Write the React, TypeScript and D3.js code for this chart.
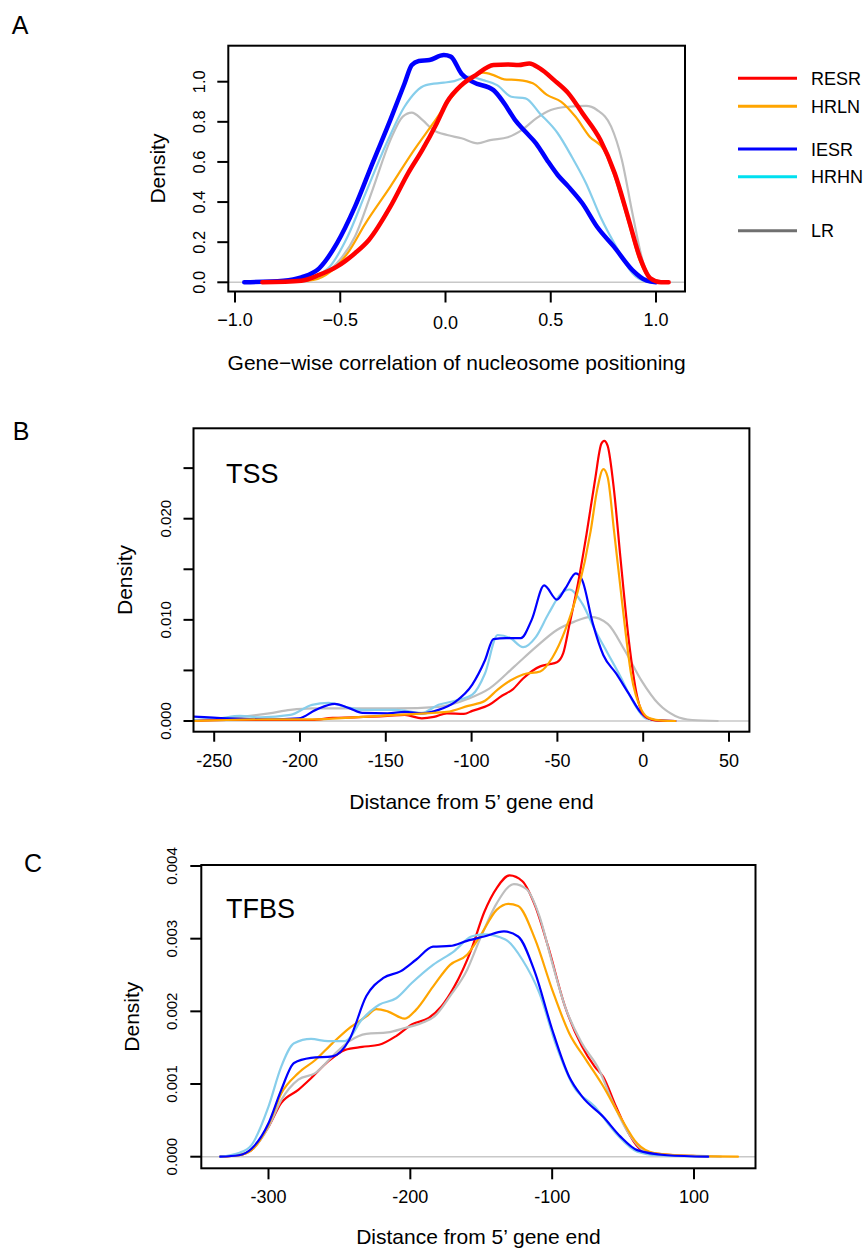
import React from "react";
import * as d3 from "d3";

// ---------- Panel A: gene-wise correlation ----------
const A_IESR: [number, number][] = [
  [-0.956, 0], [-0.77, 0.008], [-0.685, 0.025], [-0.6, 0.07], [-0.516, 0.194], [-0.43, 0.377],
  [-0.347, 0.593], [-0.262, 0.81], [-0.195, 0.99], [-0.16, 1.083], [-0.127, 1.103], [-0.076, 1.108],
  [-0.008, 1.133], [0.025, 1.125], [0.076, 1.04], [0.127, 1.0], [0.228, 0.958], [0.279, 0.892],
  [0.33, 0.81], [0.38, 0.75], [0.43, 0.693], [0.482, 0.61], [0.533, 0.535], [0.584, 0.477],
  [0.65, 0.394], [0.72, 0.277], [0.8, 0.178], [0.888, 0.061], [0.956, 0.008], [1.0, 0],
];
const A_RESR: [number, number][] = [
  [-0.87, 0], [-0.685, 0.008], [-0.6, 0.037], [-0.516, 0.078], [-0.43, 0.145], [-0.364, 0.211],
  [-0.262, 0.377], [-0.178, 0.543], [-0.11, 0.66], [-0.042, 0.792], [0.008, 0.9], [0.076, 0.983],
  [0.144, 1.033], [0.228, 1.083], [0.296, 1.086], [0.347, 1.083], [0.398, 1.091], [0.448, 1.066],
  [0.516, 1.008], [0.584, 0.942], [0.651, 0.842], [0.736, 0.709], [0.804, 0.543], [0.871, 0.31],
  [0.922, 0.128], [0.973, 0.02], [1.024, 0], [1.06, 0],
];
const A_HRLN: [number, number][] = [
  [-0.87, 0], [-0.65, 0.008], [-0.567, 0.037], [-0.465, 0.145], [-0.38, 0.294], [-0.262, 0.477],
  [-0.16, 0.643], [-0.059, 0.792], [0.025, 0.917], [0.11, 1.008], [0.178, 1.045], [0.228, 1.033],
  [0.279, 1.012], [0.347, 1.008], [0.415, 0.992], [0.482, 0.934], [0.55, 0.9], [0.618, 0.825],
  [0.685, 0.726], [0.753, 0.66], [0.804, 0.527], [0.871, 0.294], [0.922, 0.111], [0.973, 0.02],
  [1.04, 0],
];
const A_HRHN: [number, number][] = [
  [-0.956, 0], [-0.72, 0.008], [-0.635, 0.028], [-0.55, 0.078], [-0.465, 0.228], [-0.38, 0.443],
  [-0.28, 0.693], [-0.195, 0.875], [-0.093, 0.983], [-0.008, 0.995], [0.042, 1.003], [0.11, 1.025],
  [0.178, 1.008], [0.245, 0.983], [0.313, 0.925], [0.38, 0.917], [0.448, 0.842], [0.533, 0.743],
  [0.6, 0.626], [0.668, 0.493], [0.736, 0.327], [0.82, 0.161], [0.888, 0.045], [0.94, 0.008],
  [0.99, 0],
];
const A_LR: [number, number][] = [
  [-0.94, 0], [-0.685, 0.008], [-0.6, 0.028], [-0.516, 0.095], [-0.43, 0.228], [-0.347, 0.46],
  [-0.262, 0.709], [-0.203, 0.826], [-0.16, 0.846], [-0.11, 0.81], [-0.059, 0.76], [0.008, 0.734],
  [0.076, 0.718], [0.152, 0.693], [0.212, 0.709], [0.296, 0.723], [0.364, 0.76], [0.431, 0.817],
  [0.5, 0.859], [0.584, 0.875], [0.668, 0.879], [0.72, 0.859], [0.787, 0.776], [0.838, 0.61],
  [0.888, 0.344], [0.94, 0.095], [0.99, 0.012], [1.06, 0],
];

// ---------- Panel B: TSS ----------
const B_RESR: [number, number][] = [
  [-262, 0], [-242.6, 0.0001], [-218, 0.0001], [-193, 0.0001], [-181, 0.0003], [-168.6, 0.00036],
  [-149, 0.0005], [-139, 0.0006], [-129, 0.00026], [-122, 0.0004], [-114.4, 0.00076], [-104.5, 0.0007],
  [-99.6, 0.001], [-89.7, 0.0016], [-82.3, 0.0025], [-76.2, 0.0031], [-70, 0.0042], [-60, 0.0054],
  [-55.2, 0.0056], [-50.3, 0.0058], [-46.6, 0.0067], [-42.9, 0.0096], [-38, 0.0136], [-33, 0.0185],
  [-28.1, 0.0238], [-24.4, 0.0274], [-22.7, 0.0277], [-20.7, 0.0272], [-17, 0.0228], [-13.3, 0.0162],
  [-8.4, 0.008], [-3.5, 0.0024], [1.5, 0.0004], [8.9, 0.00003], [18.7, 0],
];
const B_HRLN: [number, number][] = [
  [-262, 0], [-242.6, 0.0001], [-218, 0.00016], [-193, 0.00016], [-168.6, 0.00036], [-144, 0.0006],
  [-126.7, 0.00076], [-114.4, 0.0009], [-102, 0.0015], [-92.2, 0.002], [-84.8, 0.0031], [-77.4, 0.004],
  [-70, 0.0046], [-60, 0.0049], [-52.8, 0.0063], [-45.4, 0.009], [-38, 0.0129], [-30.6, 0.0188],
  [-26.9, 0.0228], [-23.2, 0.0249], [-20.7, 0.0241], [-17, 0.0188], [-12, 0.0113], [-7.1, 0.0047],
  [-1, 0.0011], [3.9, 0.00026], [11.3, 0.00003], [18.7, 0],
];
const B_IESR: [number, number][] = [
  [-262, 0.00043], [-242.6, 0.00026], [-218, 0.00016], [-200.7, 0.00026], [-190.8, 0.0011],
  [-179.7, 0.0017], [-171, 0.00125], [-163.7, 0.0008], [-149, 0.00076], [-139, 0.0009],
  [-129, 0.00076], [-119.3, 0.0011], [-109.5, 0.0019], [-99.6, 0.0036], [-92.2, 0.006],
  [-87.3, 0.0081], [-79.9, 0.0082], [-71.3, 0.0082], [-65, 0.01], [-57.7, 0.0134], [-50.3, 0.012],
  [-45.4, 0.0131], [-39.2, 0.0146], [-35.5, 0.0139], [-29.3, 0.0096], [-23.2, 0.0065],
  [-15.8, 0.0047], [-8.4, 0.0027], [-1, 0.00076], [6.4, 0.0001], [18.7, 0],
];
const B_HRHN: [number, number][] = [
  [-262, 0.0001], [-247.5, 0.00026], [-235, 0.0005], [-222.9, 0.00036], [-205.6, 0.0006],
  [-193, 0.0016], [-183.4, 0.0018], [-173.6, 0.0014], [-163.7, 0.0011], [-144, 0.0011],
  [-129, 0.0008], [-119.3, 0.0016], [-109.5, 0.002], [-99.6, 0.0026], [-92.2, 0.0047],
  [-84.8, 0.0085], [-77.4, 0.0082], [-70, 0.0073], [-62.6, 0.0083], [-55.2, 0.0106],
  [-47.8, 0.0126], [-42.9, 0.013], [-35.5, 0.0116], [-28.1, 0.009], [-20.7, 0.0067],
  [-13.3, 0.0044], [-5.9, 0.0019], [1.5, 0.00026], [11.3, 0],
];
const B_LR: [number, number][] = [
  [-262, 0.00003], [-242.6, 0.00026], [-218, 0.00076], [-205.6, 0.0011], [-193, 0.00125],
  [-144, 0.00125], [-119.3, 0.0014], [-102, 0.0022], [-89.7, 0.0032], [-75, 0.0054],
  [-62.6, 0.0073], [-50.3, 0.009], [-40.4, 0.0098], [-30.6, 0.0103], [-20.7, 0.0096],
  [-10.8, 0.007], [-1, 0.004], [8.9, 0.0017], [18.7, 0.0005], [28.6, 0.0001], [43.4, 0],
];

// ---------- Panel C: TFBS ----------
const C_RESR: [number, number][] = [
  [-334, 0], [-321, 0.00002], [-312, 0.00009], [-300, 0.00041], [-291, 0.00074], [-279, 0.00092],
  [-270, 0.00108], [-258, 0.00131], [-246, 0.00147], [-234, 0.00151], [-222, 0.00154],
  [-210, 0.00166], [-199, 0.00182], [-187, 0.00191], [-178, 0.00207], [-169, 0.00234],
  [-157, 0.00285], [-148, 0.00336], [-139, 0.0037], [-130, 0.00387], [-121, 0.00379],
  [-112, 0.00345], [-103, 0.0029], [-91, 0.00207], [-79, 0.00152], [-70, 0.00124], [-64, 0.0011],
  [-55, 0.00069], [-46, 0.00032], [-37, 0.00009], [-25, 0.00004], [-1.5, 0.00001], [10, 0],
];
const C_LR: [number, number][] = [
  [-334, 0], [-321, 0.00002], [-312, 0.00009], [-300, 0.00041], [-291, 0.00078], [-279, 0.00106],
  [-267, 0.00115], [-255, 0.00138], [-243, 0.00159], [-231, 0.00169], [-216, 0.00171],
  [-204, 0.00177], [-192, 0.00184], [-183, 0.00193], [-172, 0.00221], [-160, 0.00257],
  [-151, 0.00299], [-139, 0.00349], [-127, 0.00375], [-118, 0.00368], [-109, 0.00331],
  [-100, 0.00267], [-91, 0.00207], [-79, 0.00156], [-67, 0.0012], [-58, 0.00078], [-46, 0.00032],
  [-34, 0.00007], [-19, 0.00002], [4.5, 0.00001], [19, 0],
];
const C_HRLN: [number, number][] = [
  [-334, 0], [-321, 0.00002], [-312, 0.00009], [-300, 0.00044], [-291, 0.00087], [-279, 0.00115],
  [-267, 0.00133], [-255, 0.00156], [-243, 0.00177], [-231, 0.00193], [-224, 0.00203],
  [-216, 0.002], [-204, 0.0019], [-196, 0.00202], [-184, 0.00234], [-172, 0.00264],
  [-160, 0.00278], [-151, 0.00303], [-139, 0.0034], [-131, 0.00348], [-124, 0.00345],
  [-112, 0.00299], [-100, 0.0023], [-88, 0.0017], [-76, 0.00133], [-64, 0.00097], [-52, 0.00055],
  [-40, 0.00018], [-28, 0.00005], [-1.5, 0.00001], [31, 0],
];
const C_IESR: [number, number][] = [
  [-334, 0], [-321, 0.00002], [-312, 0.00011], [-300, 0.00046], [-291, 0.00092], [-282, 0.00129],
  [-270, 0.00136], [-255, 0.00138], [-243, 0.00161], [-231, 0.00221], [-219, 0.00246],
  [-207, 0.00255], [-196, 0.00271], [-184, 0.00289], [-172, 0.0029], [-160, 0.00297],
  [-148, 0.00303], [-134, 0.0031], [-124, 0.00303], [-112, 0.00253], [-100, 0.00175],
  [-88, 0.0011], [-79, 0.00083], [-64, 0.00055], [-52, 0.00028], [-40, 0.00009], [-19, 0.00002],
  [10, 0],
];
const C_HRHN: [number, number][] = [
  [-334, 0], [-321, 0.00005], [-312, 0.00016], [-300, 0.00069], [-291, 0.00124], [-282, 0.00156],
  [-270, 0.00162], [-258, 0.00159], [-246, 0.00159], [-234, 0.00189], [-222, 0.00209],
  [-210, 0.00218], [-199, 0.00239], [-184, 0.00264], [-169, 0.00283], [-157, 0.00303],
  [-148, 0.00306], [-133, 0.00299], [-121, 0.00271], [-109, 0.00225], [-97, 0.00152],
  [-85, 0.00097], [-70, 0.00069], [-55, 0.00032], [-40, 0.00007], [-25, 0.00002], [10, 0],
];

// ---------- Ticks / labels ----------
const A_XTICKS = [-1, -0.5, 0, 0.5, 1];
const A_XLABELS = ["\u22121.0", "\u22120.5", "0.0", "0.5", "1.0"];
const A_YTICKS = [0, 0.2, 0.4, 0.6, 0.8, 1.0];
const A_YLABELS = ["0.0", "0.2", "0.4", "0.6", "0.8", "1.0"];
const B_XTICKS = [-250, -200, -150, -100, -50, 0, 50];
const B_XLABELS = ["-250", "-200", "-150", "-100", "-50", "0", "50"];
const B_YTICKS = [0, 0.005, 0.01, 0.015, 0.02, 0.025];
const B_YLABELS = ["0.000", "", "0.010", "", "0.020", ""];
const C_XTICKS = [-300, -200, -100, 0];
const C_XLABELS = ["-300", "-200", "-100", "100"];
const C_YTICKS = [0, 0.001, 0.002, 0.003, 0.004];
const C_YLABELS = ["0.000", "0.001", "0.002", "0.003", "0.004"];

const LEGEND_NAMES = ["RESR", "HRLN", "IESR", "HRHN", "LR"];
const LEGEND_COLORS = ["#FF0000", "#FFA500", "#0000FF", "#00E0F0", "#707070"];

const RED = "#FF0000";
const ORANGE = "#FFA500";
const BLUE = "#0000FF";
const SKY = "#87CEEB";
const GRAY = "#BEBEBE";
const FONT = "'Liberation Sans', Arial, Helvetica, sans-serif";

type Series = { data: [number, number][]; color: string; width: number };

type PanelProps = {
  box: [number, number, number, number];
  xDom: [number, number];
  xRange: [number, number];
  yDom: [number, number];
  yRange: [number, number];
  series: Series[];
  xTicks: number[];
  xLabels: string[];
  yTicks: number[];
  yLabels: string[];
  xLabelY: number;
  yLabelX: number;
  yTickFont: number;
  tick: number;
  xTitle: string;
  xTitleY: number;
  yTitleX: number;
  inner?: { text: string; x: number; y: number };
  zeroShift?: number;
};

function Panel(p: PanelProps) {
  const [bx0, by0, bx1, by1] = p.box;
  const x = d3.scaleLinear().domain(p.xDom).range(p.xRange);
  const y = d3.scaleLinear().domain(p.yDom).range(p.yRange);
  const line = d3
    .line<[number, number]>()
    .x((d) => x(d[0]))
    .y((d) => y(d[1]))
    .curve(d3.curveMonotoneX);
  const tick = p.tick;
  const cx = (bx0 + bx1) / 2;
  const cy = (by0 + by1) / 2;
  const clipId = `clip${Math.round(bx0)}_${Math.round(by0)}`;
  return (
    <g>
      <defs>
        <clipPath id={clipId}>
          <rect x={bx0} y={by0} width={bx1 - bx0} height={by1 - by0} />
        </clipPath>
      </defs>
      <line x1={bx0} x2={bx1} y1={y(0)} y2={y(0)} stroke="#C8C8C8" strokeWidth={1.6} />
      <g clipPath={`url(#${clipId})`}>
        {p.series.map((s, i) => (
          <path key={i} d={line(s.data) || ""} fill="none" stroke={s.color} strokeWidth={s.width} strokeLinejoin="round" strokeLinecap="round" />
        ))}
      </g>
      <rect x={bx0} y={by0} width={bx1 - bx0} height={by1 - by0} fill="none" stroke="#000" strokeWidth={2} />
      {p.xTicks.map((t, i) => (
        <g key={"xt" + i}>
          <line x1={x(t)} x2={x(t)} y1={by1} y2={by1 + tick} stroke="#000" strokeWidth={2} />
          <text
            x={x(t)}
            y={p.xLabelY + (p.zeroShift && t === 0 ? p.zeroShift : 0)}
            textAnchor="middle"
            fontSize={18}
            fontFamily={FONT}
          >
            {p.xLabels[i]}
          </text>
        </g>
      ))}
      {p.yTicks.map((t, i) => (
        <g key={"yt" + i}>
          <line x1={bx0} x2={bx0 - tick} y1={y(t)} y2={y(t)} stroke="#000" strokeWidth={2} />
          {p.yLabels[i] ? (
            <text
              transform={`translate(${p.yLabelX},${y(t)}) rotate(-90)`}
              textAnchor="middle"
              fontSize={p.yTickFont}
              fontFamily={FONT}
            >
              {p.yLabels[i]}
            </text>
          ) : null}
        </g>
      ))}
      <text x={cx} y={p.xTitleY} textAnchor="middle" fontSize={21} fontFamily={FONT}>
        {p.xTitle}
      </text>
      <text transform={`translate(${p.yTitleX},${cy}) rotate(-90)`} textAnchor="middle" fontSize={21} fontFamily={FONT}>
        Density
      </text>
      {p.inner ? (
        <text x={p.inner.x} y={p.inner.y} fontSize={27} fontFamily={FONT}>
          {p.inner.text}
        </text>
      ) : null}
    </g>
  );
}

export default function App() {
  const legendY = [78.3, 106.3, 149, 176.7, 230.7];
  return (
    <svg
      width={866}
      height={1249}
      style={{ position: "absolute", left: 0, top: 0, background: "#fff" }}
      xmlns="http://www.w3.org/2000/svg"
    >
      <rect x={0} y={0} width={866} height={1249} fill="#fff" />
      <text x={20} y={34} textAnchor="middle" fontSize={25} fontFamily={FONT}>A</text>
      <text x={21} y={440} textAnchor="middle" fontSize={25} fontFamily={FONT}>B</text>
      <text x={33} y={872} textAnchor="middle" fontSize={25} fontFamily={FONT}>C</text>

      <Panel
        box={[228.3, 45.7, 685, 291.5]}
        xDom={[-1, 1]}
        xRange={[235, 656]}
        yDom={[0, 1]}
        yRange={[282.3, 81.7]}
        series={[
          { data: A_LR, color: GRAY, width: 2.2 },
          { data: A_HRHN, color: SKY, width: 2.2 },
          { data: A_IESR, color: BLUE, width: 4.5 },
          { data: A_HRLN, color: ORANGE, width: 2.2 },
          { data: A_RESR, color: RED, width: 4.5 },
        ]}
        xTicks={A_XTICKS}
        xLabels={A_XLABELS}
        yTicks={A_YTICKS}
        yLabels={A_YLABELS}
        xLabelY={326}
        yLabelX={205}
        yTickFont={16.5}
        tick={11}
        xTitle={"Gene\u2212wise correlation of nucleosome positioning"}
        xTitleY={370}
        yTitleX={165}
        zeroShift={3}
      />

      {LEGEND_NAMES.map((n, i) => (
        <g key={n}>
          <line x1={738} x2={797} y1={legendY[i]} y2={legendY[i]} stroke={LEGEND_COLORS[i]} strokeWidth={3} />
          <text x={811} y={legendY[i] + 6.5} fontSize={18} fontFamily={FONT}>{n}</text>
        </g>
      ))}

      <Panel
        box={[193.5, 428.3, 749.4, 731.7]}
        xDom={[-250, 50]}
        xRange={[214.2, 729]}
        yDom={[0, 0.02]}
        yRange={[721, 518.7]}
        series={[
          { data: B_LR, color: GRAY, width: 2.2 },
          { data: B_HRHN, color: SKY, width: 2.2 },
          { data: B_IESR, color: BLUE, width: 2.2 },
          { data: B_RESR, color: RED, width: 2.2 },
          { data: B_HRLN, color: ORANGE, width: 2.2 },
        ]}
        xTicks={B_XTICKS}
        xLabels={B_XLABELS}
        yTicks={B_YTICKS}
        yLabels={B_YLABELS}
        xLabelY={767}
        yLabelX={171}
        yTickFont={15}
        tick={10}
        xTitle={"Distance from 5\u2019 gene end"}
        xTitleY={809}
        yTitleX={132}
        inner={{ text: "TSS", x: 226, y: 483 }}
      />

      <Panel
        box={[201.3, 865, 755.5, 1168.3]}
        xDom={[-300, 0]}
        xRange={[268.5, 694]}
        yDom={[0, 0.004]}
        yRange={[1156.7, 866]}
        series={[
          { data: C_RESR, color: RED, width: 2.2 },
          { data: C_LR, color: GRAY, width: 2.2 },
          { data: C_HRLN, color: ORANGE, width: 2.2 },
          { data: C_HRHN, color: SKY, width: 2.2 },
          { data: C_IESR, color: BLUE, width: 2.2 },
        ]}
        xTicks={C_XTICKS}
        xLabels={C_XLABELS}
        yTicks={C_YTICKS}
        yLabels={C_YLABELS}
        xLabelY={1203}
        yLabelX={177}
        yTickFont={15}
        tick={11}
        xTitle={"Distance from 5\u2019 gene end"}
        xTitleY={1244}
        yTitleX={139}
        inner={{ text: "TFBS", x: 226, y: 918 }}
      />
    </svg>
  );
}
